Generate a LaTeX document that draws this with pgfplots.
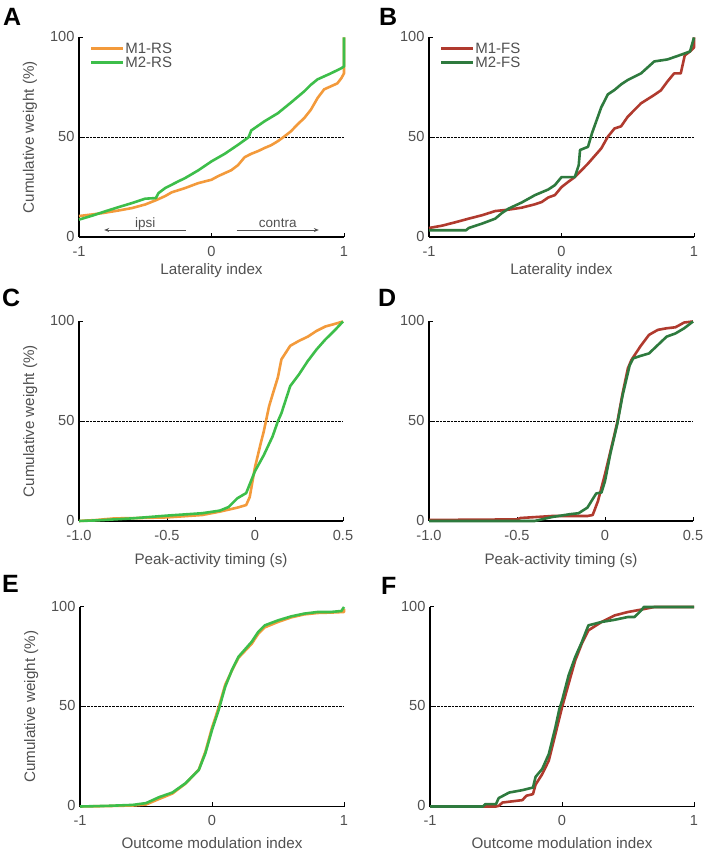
\documentclass[border=0pt]{standalone}
\usepackage{fontspec}
\setmainfont{Liberation Sans}
\usepackage{pgfplots}
\pgfplotsset{compat=1.18}
\usetikzlibrary{arrows.meta}

\definecolor{mOrange}{RGB}{243,154,59}
\definecolor{mGreen}{RGB}{61,190,74}
\definecolor{mRed}{RGB}{176,58,46}
\definecolor{mDkGreen}{RGB}{46,122,62}
\definecolor{txtgray}{RGB}{80,80,80}

\pgfplotsset{
  cdf/.style={
    scale only axis, width=265pt, height=199.5pt,
    ymin=0, ymax=100, clip=false,
    axis x line*=bottom, axis y line*=left,
    axis line style={line width=1.3pt, black},
    ytick={0,50,100}, yticklabels={0,50,100},
    tick align=inside, major tick length=4pt,
    tick style={line width=1pt, black},
    ticklabel style={font=\fontsize{14.6}{16}\selectfont, text=txtgray},
    xticklabel style={yshift=-5.5pt},
    yticklabel style={xshift=-1pt, yshift=1pt},
    label style={font=\fontsize{15.2}{17}\selectfont, text=txtgray},
    every axis plot/.append style={line width=2.6pt, line join=round},
    legend style={draw=none, fill=none, at={(axis description cs:0.04,0.98)},
      anchor=north west, font=\fontsize{15}{15}\selectfont, text=txtgray,
      row sep=0pt, inner sep=0pt, nodes={inner sep=1pt}},
    legend cell align=left,
    legend image code/.code={\draw[##1] (0pt,0pt) -- (32pt,0pt);},
  },
  lat/.style={xmin=-1, xmax=1, xtick={-1,0,1}, xticklabels={-1,0,1}},
  peak/.style={xmin=-1, xmax=0.5, xtick={-1,-0.5,0,0.5}, xticklabels={-1.0,-0.5,0,0.5}},
  ylab/.style={ylabel={Cumulative weight (\%)},
    ylabel style={at={(axis description cs:-0.185,0.5)}, anchor=center}},
  refline/.style={forget plot, densely dotted, line width=0.9pt, black},
}

\begin{document}
\begin{tikzpicture}
\useasboundingbox (0pt,0pt) rectangle (705pt,853pt);

% A
\begin{axis}[cdf, lat, ylab, at={(79pt,616pt)}, anchor=south west,
  xlabel={Laterality index},
  xlabel style={at={(axis description cs:0.5,-0.168)}, anchor=center}]
\addplot[refline] coordinates {(-1,50)(1,50)};
\addplot[mOrange] coordinates {(-1,10.5)(-0.9,11.3)(-0.82,12)(-0.7,13.3)(-0.6,14.5)(-0.5,16.3)(-0.41,18.7)(-0.35,20.5)(-0.3,22.4)(-0.2,24.5)(-0.1,27)(0,28.7)(0.05,30.5)(0.1,32)(0.15,33.5)(0.2,36)(0.25,40)(0.3,41.7)(0.35,43)(0.4,44.6)(0.45,46)(0.5,48)(0.55,50.4)(0.6,53)(0.65,56.5)(0.7,59.6)(0.75,63.8)(0.8,69.6)(0.85,74)(0.9,75.5)(0.95,77)(0.98,79.6)(1,82)(1,100)};
\addlegendentry{M1-RS}
\addplot[mGreen] coordinates {(-1,8.7)(-0.9,10.7)(-0.8,12.9)(-0.7,15)(-0.6,17)(-0.5,19.2)(-0.42,19.5)(-0.4,22)(-0.35,24.5)(-0.25,27.9)(-0.2,29.5)(-0.1,33.4)(0,37.9)(0.1,41.7)(0.2,46.2)(0.28,50)(0.3,53.4)(0.4,58)(0.5,62)(0.6,67.4)(0.7,73)(0.75,76.3)(0.8,79)(0.9,82)(0.98,84.6)(1,85.5)(1,100)};
\addlegendentry{M2-RS}
\draw[txtgray, line width=0.8pt, {Stealth[length=5pt,width=4pt]}-] (axis cs:-0.81,3.5) -- (axis cs:-0.19,3.5);
\draw[txtgray, line width=0.8pt, -{Stealth[length=5pt,width=4pt]}] (axis cs:0.19,3.5) -- (axis cs:0.81,3.5);
\node[text=txtgray, font=\fontsize{13.5}{14}\selectfont, anchor=base] at (axis cs:-0.5,5) {ipsi};
\node[text=txtgray, font=\fontsize{13.5}{14}\selectfont, anchor=base] at (axis cs:0.5,5) {contra};
\end{axis}

% B
\begin{axis}[cdf, lat, at={(429pt,616pt)}, anchor=south west,
  xlabel={Laterality index},
  xlabel style={at={(axis description cs:0.5,-0.168)}, anchor=center}]
\addplot[refline] coordinates {(-1,50)(1,50)};
\addplot[mRed] coordinates {(-1,4.5)(-0.9,5.7)(-0.8,7.4)(-0.7,9.2)(-0.6,10.9)(-0.5,13)(-0.4,13.7)(-0.3,14.7)(-0.2,16.4)(-0.15,17.5)(-0.1,19.8)(-0.05,21)(0,25)(0.05,27.6)(0.1,30)(0.2,36.8)(0.3,44.4)(0.35,50.3)(0.4,54.4)(0.45,55.5)(0.5,60.3)(0.6,67)(0.7,71.2)(0.75,73.5)(0.8,78)(0.85,82)(0.9,82)(0.93,91)(0.97,93)(1,95)(1,100)};
\addlegendentry{M1-FS}
\addplot[mDkGreen] coordinates {(-1,3.4)(-0.72,3.4)(-0.7,4.5)(-0.6,6.7)(-0.5,9.2)(-0.45,12)(-0.4,14.2)(-0.3,17.3)(-0.2,21)(-0.1,23.8)(-0.05,26)(0,30)(0.1,30)(0.13,36)(0.14,43.6)(0.2,45.2)(0.23,52)(0.3,65)(0.35,71.5)(0.4,73.7)(0.45,76.5)(0.5,78.7)(0.6,82)(0.7,88)(0.8,89)(0.9,91.3)(0.97,93)(1,100)};
\addlegendentry{M2-FS}
\end{axis}

% C
\begin{axis}[cdf, peak, ylab, width=264pt, at={(79pt,332pt)}, anchor=south west,
  xlabel={Peak-activity timing (s)},
  xlabel style={at={(axis description cs:0.5,-0.2)}, anchor=center}]
\addplot[refline] coordinates {(-1,50)(0.5,50)};
\addplot[mOrange] coordinates {(-1,0)(-0.9,0.5)(-0.8,1.3)(-0.65,1.5)(-0.5,1.8)(-0.3,3)(-0.2,4.7)(-0.1,6.7)(-0.05,8)(-0.03,12)(0,27)(0.03,38)(0.05,45)(0.08,57.5)(0.1,63.4)(0.13,72)(0.15,81)(0.2,87.8)(0.25,90.3)(0.3,92.4)(0.35,95.3)(0.4,97.5)(0.45,98.7)(0.5,100)};
\addplot[mGreen] coordinates {(-1,0)(-0.9,0.3)(-0.7,1.3)(-0.5,2.7)(-0.3,3.9)(-0.2,5.2)(-0.15,7)(-0.1,11.4)(-0.05,14)(0,25)(0.05,33)(0.1,42.4)(0.13,50)(0.15,54)(0.2,67.6)(0.25,73.5)(0.3,80.2)(0.35,86)(0.4,91)(0.45,95.3)(0.5,100)};
\end{axis}

% D
\begin{axis}[cdf, peak, width=264pt, at={(429pt,332pt)}, anchor=south west,
  xlabel={Peak-activity timing (s)},
  xlabel style={at={(axis description cs:0.5,-0.2)}, anchor=center}]
\addplot[refline] coordinates {(-1,50)(0.5,50)};
\addplot[mRed] coordinates {(-1,0.5)(-0.5,0.8)(-0.48,1.5)(-0.3,2.5)(-0.1,2.5)(-0.07,3)(-0.04,10)(0,23.5)(0.05,42)(0.07,49.6)(0.1,64)(0.13,76.5)(0.15,80.7)(0.2,87.4)(0.25,93.3)(0.3,95.8)(0.35,96.6)(0.4,97.1)(0.45,99.5)(0.5,100)};
\addplot[mDkGreen] coordinates {(-1,0)(-0.4,0)(-0.35,1)(-0.3,2)(-0.2,3.4)(-0.15,3.9)(-0.1,6.7)(-0.05,13.8)(-0.02,14.3)(0,20)(0.03,33.6)(0.07,48.7)(0.1,63)(0.14,78)(0.16,81.5)(0.2,82.7)(0.25,84)(0.3,88.2)(0.35,92.4)(0.4,94)(0.45,96.6)(0.5,100)};
\end{axis}

% E
\begin{axis}[cdf, lat, ylab, width=264pt, at={(80pt,46.5pt)}, anchor=south west,
  xlabel={Outcome modulation index},
  xlabel style={at={(axis description cs:0.5,-0.185)}, anchor=center}]
\addplot[refline] coordinates {(-1,50)(1,50)};
\addplot[mOrange] coordinates {(-1,0)(-0.8,0.2)(-0.6,0.5)(-0.5,1)(-0.4,3.8)(-0.3,6.5)(-0.2,11.5)(-0.1,18.5)(-0.05,27.5)(0,39.5)(0.05,49.5)(0.1,61)(0.15,68)(0.2,74.5)(0.3,81.5)(0.35,86.5)(0.4,89.8)(0.5,92.5)(0.6,94.8)(0.7,96.3)(0.8,97)(0.9,97.2)(1,97.5)(1,99)};
\addplot[mGreen] coordinates {(-1,0)(-0.8,0.3)(-0.6,0.8)(-0.5,1.7)(-0.4,4.7)(-0.3,7)(-0.2,11.7)(-0.1,18.3)(-0.05,26.7)(0,38.3)(0.05,48.3)(0.1,60)(0.15,68.3)(0.2,75)(0.3,82.5)(0.35,87.5)(0.4,90.8)(0.5,93.3)(0.6,95.3)(0.7,96.7)(0.8,97.5)(0.9,97.5)(0.98,98)(1,100)};
\end{axis}

% F
\begin{axis}[cdf, lat, width=264pt, at={(430pt,46.5pt)}, anchor=south west,
  xlabel={Outcome modulation index},
  xlabel style={at={(axis description cs:0.5,-0.185)}, anchor=center}]
\addplot[refline] coordinates {(-1,50)(1,50)};
\addplot[mRed] coordinates {(-1,0)(-0.5,0)(-0.48,0.3)(-0.45,2)(-0.3,3.2)(-0.27,5.4)(-0.22,6.2)(-0.2,11)(-0.15,16.2)(-0.1,23)(-0.05,36.3)(0,49.7)(0.05,61.5)(0.1,73.2)(0.15,81.6)(0.2,88.3)(0.3,92.5)(0.4,95.8)(0.5,97.5)(0.6,98.7)(0.7,100)(1,100)};
\addplot[mDkGreen] coordinates {(-1,0)(-0.6,0)(-0.58,1.2)(-0.5,1.2)(-0.48,4.2)(-0.4,7)(-0.3,8.2)(-0.22,9.5)(-0.2,14.9)(-0.15,18.8)(-0.1,26.3)(-0.05,39.7)(-0.02,48.9)(0,53)(0.05,65.7)(0.1,74.9)(0.15,82.4)(0.2,90.8)(0.3,92.5)(0.4,93.6)(0.5,95)(0.55,95)(0.6,98.3)(0.62,100)(1,100)};
\end{axis}

% panel letters
\node[anchor=base west, font=\fontsize{25}{25}\selectfont\bfseries, inner sep=0pt] at (3pt,827pt) {A};
\node[anchor=base west, font=\fontsize{25}{25}\selectfont\bfseries, inner sep=0pt] at (379pt,827pt) {B};
\node[anchor=base west, font=\fontsize{25}{25}\selectfont\bfseries, inner sep=0pt] at (2pt,546pt) {C};
\node[anchor=base west, font=\fontsize{25}{25}\selectfont\bfseries, inner sep=0pt] at (378pt,546pt) {D};
\node[anchor=base west, font=\fontsize{25}{25}\selectfont\bfseries, inner sep=0pt] at (2pt,260pt) {E};
\node[anchor=base west, font=\fontsize{25}{25}\selectfont\bfseries, inner sep=0pt] at (381pt,258pt) {F};
\end{tikzpicture}
\end{document}
